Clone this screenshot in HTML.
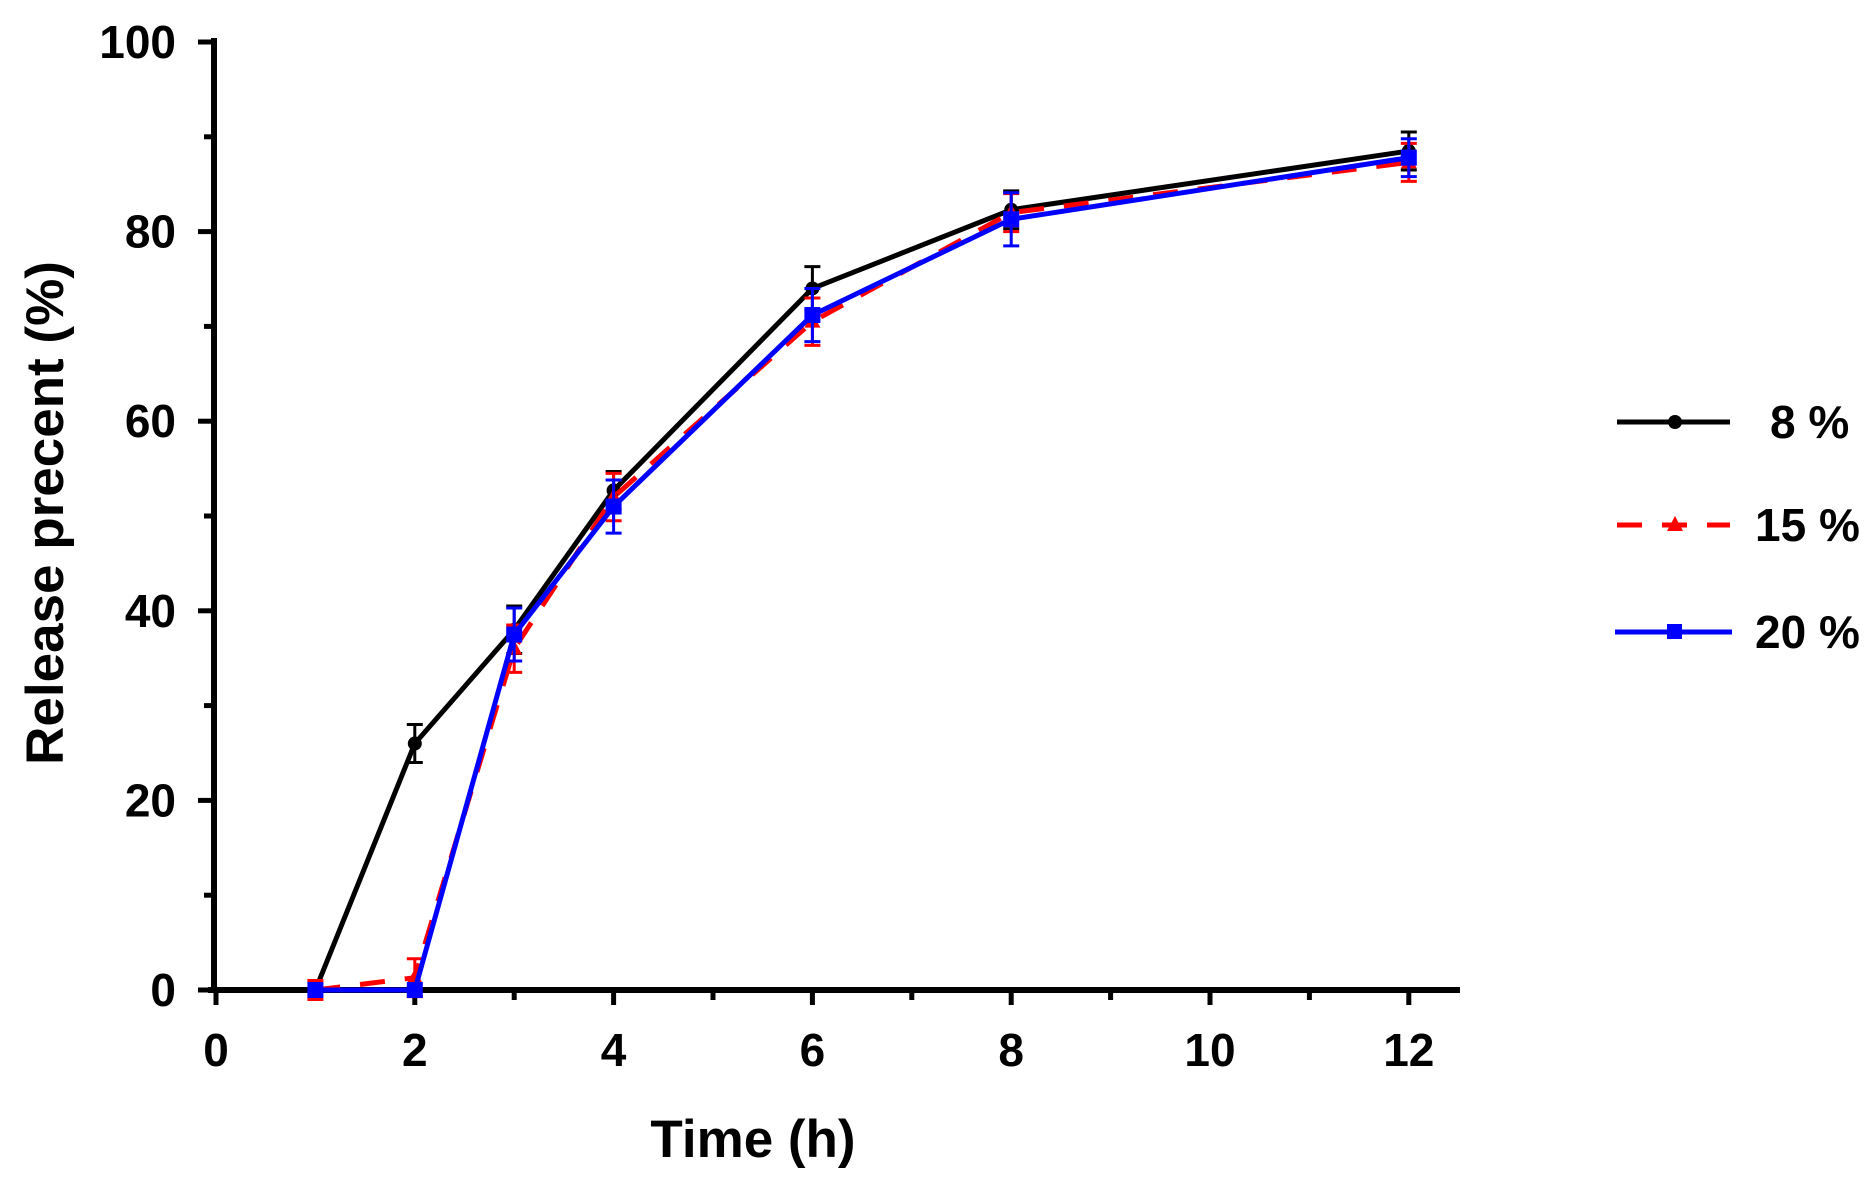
<!DOCTYPE html>
<html><head><style>html,body{margin:0;padding:0;background:#fff}</style></head>
<body>
<svg width="1869" height="1174" viewBox="0 0 1869 1174" xmlns="http://www.w3.org/2000/svg" font-family="Liberation Sans, Arial, sans-serif" font-weight="bold">
<g stroke="#000" stroke-width="6" fill="none">
<line x1="214" y1="38" x2="214" y2="993"/>
<line x1="208" y1="990" x2="1460" y2="990"/>
</g>
<g id="ticks" stroke="#000" stroke-width="5"></g>
<g id="labels" font-size="46" fill="#000"></g>
<text x="753" y="1157" font-size="53" text-anchor="middle">Time (h)</text>
<text transform="translate(63,513) rotate(-90)" font-size="53" text-anchor="middle">Release  precent (%)</text>
<g id="series"></g>
<g font-size="46">
<line x1="1617" y1="422" x2="1730" y2="422" stroke="#000" stroke-width="5"/>
<circle cx="1675" cy="422" r="7" fill="#000"/>
<text x="1770" y="438">8 %</text>
<line x1="1617" y1="525" x2="1730" y2="525" stroke="#f00" stroke-width="5" stroke-dasharray="25,20"/>
<polygon points="1675,516 1683,531 1667,531" fill="#f00"/>
<text x="1755" y="541">15 %</text>
<line x1="1615" y1="632" x2="1732" y2="632" stroke="#00f" stroke-width="5"/>
<rect x="1667" y="624" width="15" height="15" fill="#00f"/>
<text x="1755" y="648">20 %</text>
</g>
</svg>
<script>
const X=v=>216+v*99.4, Y=v=>990-v*9.48, ns="http://www.w3.org/2000/svg";
function el(p,t,a){const e=document.createElementNS(ns,t);for(const k in a)e.setAttribute(k,a[k]);p.appendChild(e);return e;}
const tk=document.getElementById('ticks'), lb=document.getElementById('labels');
for(let i=0;i<=12;i++){const x=X(i);el(tk,'line',{x1:x,y1:990,x2:x,y2:i%2?1000:1005});
 if(i%2==0){const t=el(lb,'text',{x:x,y:1066,'text-anchor':'middle'});t.textContent=i;}}
for(let v=0;v<=100;v+=10){const y=Y(v);el(tk,'line',{x1:v%20?204:198,y1:y,x2:214,y2:y});
 if(v%20==0){const t=el(lb,'text',{x:176,y:y+16,'text-anchor':'end'});t.textContent=v;}}
const xs=[1,2,3,4,6,8,12];
const S=[
 {c:'#000',d:[0,26,38,52.7,74,82.3,88.5],e:[0,2,2.5,2,2.3,2,2],m:'c',dash:''},
 {c:'#f00',d:[0,1.3,36,52,70.5,82,87.3],e:[1,2,2.5,2.5,2.5,2,2],m:'t',dash:'25,20'},
 {c:'#00f',d:[0,0,37.5,51,71.2,81.3,87.8],e:[0,0,2.8,2.8,2.8,2.8,2],m:'s',dash:''}];
const sg=document.getElementById('series');
S.forEach(s=>{
 el(sg,'polyline',{points:xs.map((x,i)=>X(x)+','+Y(s.d[i])).join(' '),fill:'none',stroke:s.c,'stroke-width':5,'stroke-dasharray':s.dash});
 xs.forEach((x,i)=>{const cx=X(x),cy=Y(s.d[i]),e=s.e[i]*9.48;
  if(e>0){el(sg,'line',{x1:cx,y1:cy-e,x2:cx,y2:cy+e,stroke:s.c,'stroke-width':3});
   el(sg,'line',{x1:cx-8,y1:cy-e,x2:cx+8,y2:cy-e,stroke:s.c,'stroke-width':3});
   el(sg,'line',{x1:cx-8,y1:cy+e,x2:cx+8,y2:cy+e,stroke:s.c,'stroke-width':3});}
  if(s.m=='c')el(sg,'circle',{cx:cx,cy:cy,r:7,fill:s.c});
  else if(s.m=='t')el(sg,'polygon',{points:`${cx},${cy-9} ${cx+8},${cy+6} ${cx-8},${cy+6}`,fill:s.c});
  else el(sg,'rect',{x:cx-8,y:cy-8,width:16,height:16,fill:s.c});});
});
</script>
</body></html>
